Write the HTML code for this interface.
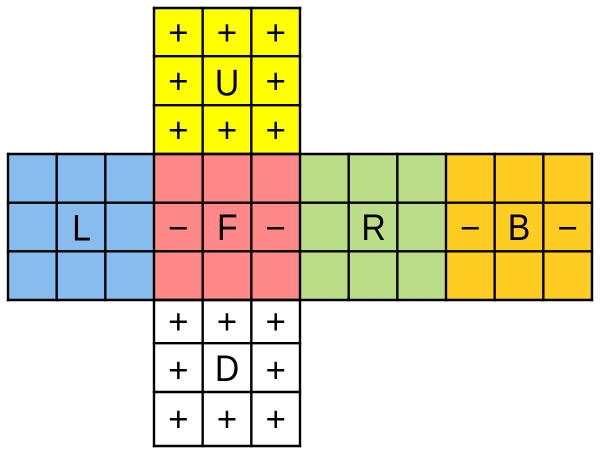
<!DOCTYPE html>
<html>
<head>
<meta charset="utf-8">
<style>
html,body{margin:0;padding:0;background:#fff;width:600px;height:454px;overflow:hidden}
svg{display:block}
text{font-family:"Liberation Sans",sans-serif;font-size:35px;fill:#000;text-anchor:middle}
text.c{font-size:37.5px}
</style>
</head>
<body>
<svg width="600" height="454" viewBox="0 0 600 454" xmlns="http://www.w3.org/2000/svg">
<rect x="154" y="8" width="146" height="146" fill="#ffff00"/>
<rect x="8" y="154" width="146" height="146" fill="#88bbee"/>
<rect x="154" y="154" width="146" height="146" fill="#ff8888"/>
<rect x="300" y="154" width="146" height="146" fill="#bbdd88"/>
<rect x="446" y="154" width="146" height="146" fill="#ffcc22"/>
<rect x="154" y="300" width="146" height="146" fill="#ffffff"/>
<g stroke="#000" stroke-width="2.4" fill="none" stroke-linecap="square">
<path d="M154 8H300M154 56.2H300M154 105.2H300M154 154H300"/>
<path d="M154 8V154M202.67 8V154M251.33 8V154M300 8V154"/>
<path d="M8 154H592M8 202.67H592M8 251.33H592M8 300H592"/>
<path d="M8 154V300M56.67 154V300M105.33 154V300M154 154V300M202.67 154V300M251.33 154V300M300 154V300M348.67 154V300M397.33 154V300M446 154V300M494.67 154V300M543.33 154V300M592 154V300"/>
<path d="M154 300H300M154 343.2H300M154 392H300M154 446H300"/>
<path d="M154 300V446M202.67 300V446M251.33 300V446M300 300V446"/>
</g>
<g>
<text x="178.3" y="44.3">+</text><text x="227" y="44.3">+</text><text x="275.7" y="44.3">+</text>
<text x="178.3" y="93">+</text><text x="275.7" y="93">+</text>
<text x="178.3" y="142">+</text><text x="227" y="142">+</text><text x="275.7" y="142">+</text>
<text x="178.3" y="240">−</text><text x="275.7" y="240">−</text>
<text x="470.3" y="240">−</text><text x="567.7" y="240">−</text>
<text x="178.3" y="333.7">+</text><text x="227" y="333.7">+</text><text x="275.7" y="333.7">+</text>
<text x="178.3" y="382">+</text><text x="275.7" y="382">+</text>
<text x="178.3" y="431">+</text><text x="227" y="431">+</text><text x="275.7" y="431">+</text>
</g>
<g>
<text class="c" transform="translate(227 95.5) scale(.9 1)">U</text>
<text class="c" transform="translate(81.5 240.5) scale(.9 1)">L</text>
<text class="c" transform="translate(227.3 240.2) scale(.9 1)">F</text>
<text class="c" transform="translate(373.5 240.2) scale(.9 1)">R</text>
<text class="c" transform="translate(519 240.2) scale(.9 1)">B</text>
<text class="c" transform="translate(227 381) scale(.9 1)">D</text>
</g>
</svg>
</body>
</html>
